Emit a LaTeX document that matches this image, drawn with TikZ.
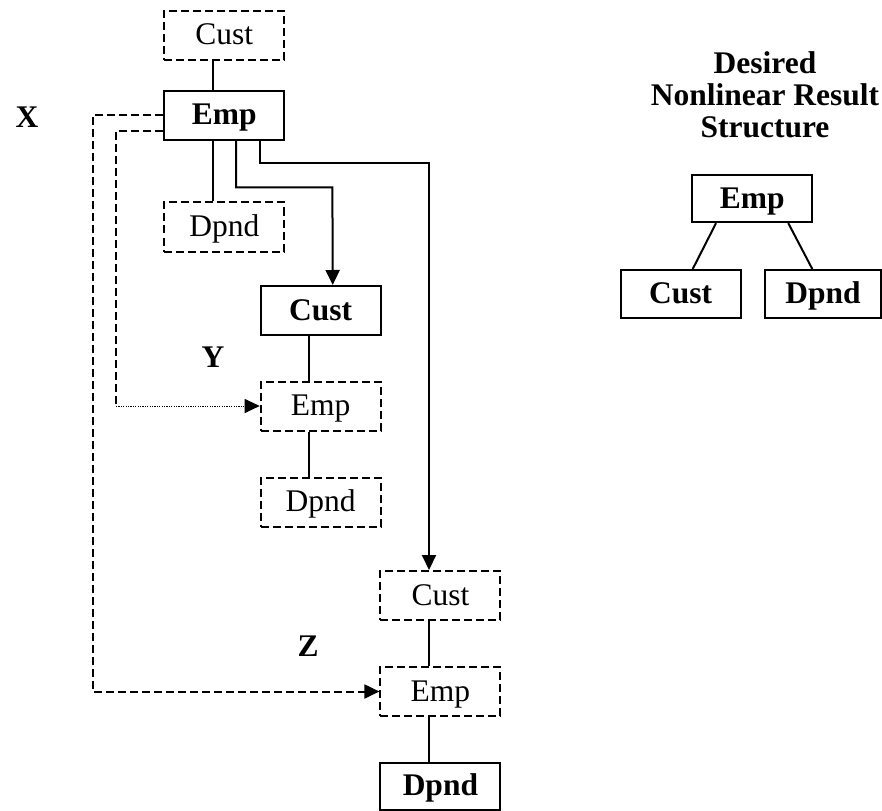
\documentclass[tikz,border=0pt]{standalone}
\usepackage{fontspec}
\setmainfont{Liberation Serif}
\usetikzlibrary{arrows.meta}
\begin{document}
\begin{tikzpicture}[x=1pt,y=-1pt,
  every node/.style={font=\fontsize{31.5}{32}\selectfont, inner sep=0pt},
  box/.style={draw, line width=2pt, minimum width=120pt, minimum height=49pt, text height=22pt, text depth=3pt},
  dbox/.style={box, dash pattern=on 8pt off 4pt},
  bbox/.style={box, font=\fontsize{31.5}{32}\selectfont\bfseries},
  lbl/.style={font=\fontsize{31.5}{32}\selectfont\bfseries},
  conn/.style={line width=2pt},
  dconn/.style={line width=2pt, dash pattern=on 8pt off 4pt},
  dotconn/.style={line width=1pt, dash pattern=on 1.2pt off 1.2pt},
  tip/.style={-{Triangle[length=15pt,width=14pt]}}
]
\useasboundingbox (0,0) rectangle (882,810);
% left structure
\node[dbox] (cust1) at (224.3,35.5) {Cust};
\node[bbox] (emp1)  at (224.3,115.5) {Emp};
\node[dbox] (dpnd1) at (224.3,227) {Dpnd};
\node[bbox] (cust2) at (320.7,310.5) {Cust};
\node[dbox] (emp2)  at (320.7,406) {Emp};
\node[dbox] (dpnd2) at (320.7,502) {Dpnd};
\node[dbox] (cust3) at (440.4,595.5) {Cust};
\node[dbox] (emp3)  at (440.4,691.5) {Emp};
\node[bbox, minimum height=47pt] (dpnd3) at (440.4,786) {Dpnd};
% labels
\node[lbl] (lx) at (27,117) {X};
\node[lbl] (ly) at (213,357) {Y};
\node[lbl] (lz) at (308,646) {Z};
% connectors
\draw[conn] ([xshift=-11.6pt]cust1.south) -- ([xshift=-11.6pt]emp1.north);
\draw[conn] ([xshift=-11.6pt]emp1.south) -- ([xshift=-11.6pt]dpnd1.north);
\draw[conn,tip] ([xshift=11.7pt]emp1.south) |- (332.4,187.3) coordinate (c1) -- ([xshift=12pt]cust2.north);
\draw[conn,tip] ([xshift=36pt]emp1.south) |- (429,163.3) coordinate (c2) -- ([xshift=-11.4pt]cust3.north);
\draw[conn] ([xshift=-12pt]cust2.south) -- ([xshift=-12pt]emp2.north);
\draw[conn] ([xshift=-12pt]emp2.south) -- ([xshift=-12pt]dpnd2.north);
\draw[conn] ([xshift=-11.4pt]cust3.south) -- ([xshift=-11.4pt]emp3.north);
\draw[conn] ([xshift=-11.4pt]emp3.south) -- ([xshift=-11.4pt]dpnd3.north);
% dashed reference lines
\draw[dconn,tip] (emp1.west) -| (92.7,691.5) coordinate (d1) -- (emp3.west);
\coordinate (d2) at (116,406);
\draw[dconn] ([yshift=-16pt]emp1.west) -| (d2);
\draw[dotconn,tip] (d2) -- (emp2.west);
% right: desired structure
\node[lbl, align=center] (title) at (765,95) {Desired\\Nonlinear Result\\Structure};
\node[bbox, minimum height=47pt] (emp4) at (752.3,198.7) {Emp};
\node[bbox, minimum height=48pt] (cust4) at (680.7,294) {Cust};
\node[bbox, minimum height=48pt, minimum width=116pt] (dpnd4) at (823,294) {Dpnd};
\draw[conn] ([xshift=-36.3pt]emp4.south) -- ([xshift=12pt]cust4.north);
\draw[conn] ([xshift=36pt]emp4.south) -- ([xshift=-10.7pt]dpnd4.north);
\end{tikzpicture}
\end{document}
